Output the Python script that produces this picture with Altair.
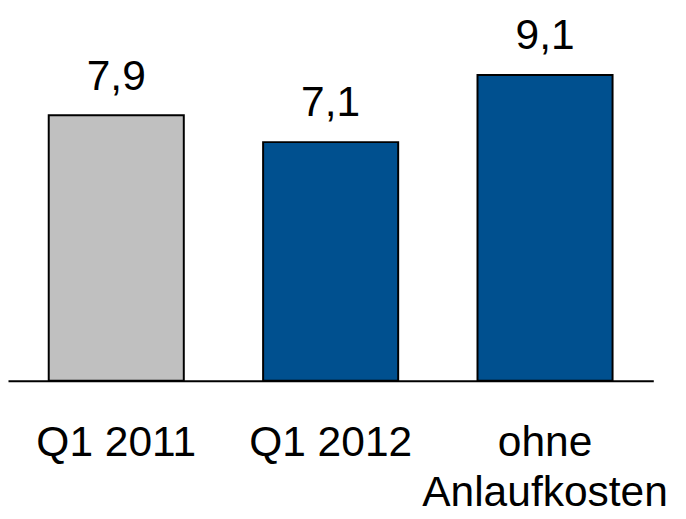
import altair as alt
import pandas as pd

categories = ["Q1 2011", "Q1 2012", "ohne|Anlaufkosten"]
values = [7.9, 7.1, 9.1]
labels = ["7,9", "7,1", "9,1"]
colors = ["#c0c0c0", "#00508f", "#00508f"]

df = pd.DataFrame({"cat": categories, "val": values, "lab": labels, "col": colors})

x = alt.X("cat:N", sort=categories, title=None,
          scale=alt.Scale(paddingInner=0.37, paddingOuter=0.19),
          axis=alt.Axis(labelAngle=0, labelFontSize=43, labelFont="Liberation Sans",
                        labelColor="black", labelPadding=42, labelLineHeight=50,
                        labelLimit=0, labelExpr="split(datum.label, '|')",
                        ticks=False, domainColor="black", domainWidth=2, grid=False))
y = alt.Y("val:Q", scale=alt.Scale(domain=[0, 11]), axis=None)

bars = alt.Chart(df).mark_bar(stroke="black", strokeWidth=2).encode(
    x=x, y=y, color=alt.Color("col:N", scale=None))
text = alt.Chart(df).mark_text(baseline="alphabetic", dy=-26, fontSize=43,
                               font="Liberation Sans", color="black").encode(
    x=alt.X("cat:N", sort=categories), y="val:Q", text="lab:N")

chart = (bars + text).properties(
    width=653, height=374,
    autosize=alt.AutoSizeParams(type="none"),
    padding={"left": 0, "top": 0, "right": 25, "bottom": 150},
).configure_view(stroke=None)

chart.save("out.html", embed_options={"renderer": "svg", "actions": False})
